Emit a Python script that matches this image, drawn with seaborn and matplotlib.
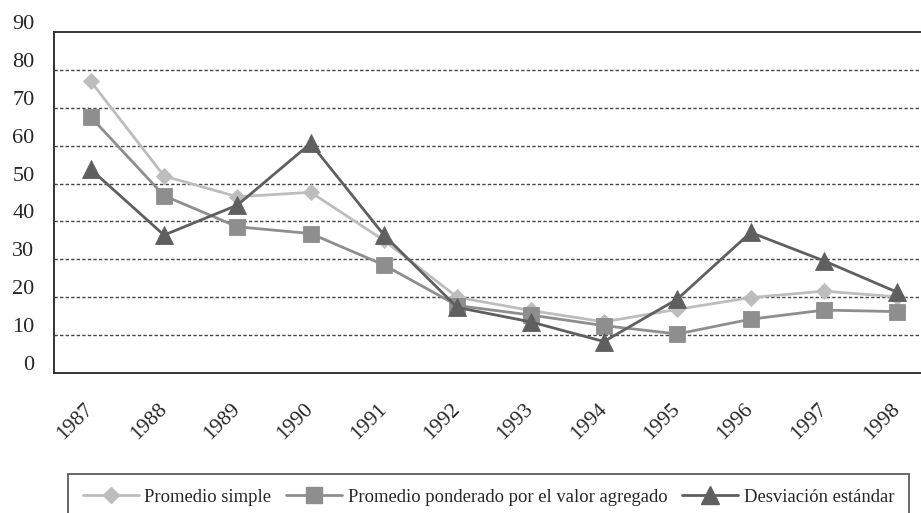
import matplotlib
matplotlib.use("Agg")
import matplotlib.pyplot as plt
from matplotlib.lines import Line2D
from matplotlib.transforms import ScaledTranslation
import numpy as np
import pandas as pd
import seaborn as sns

years = [1987, 1988, 1989, 1990, 1991, 1992, 1993, 1994, 1995, 1996, 1997, 1998]
promedio_simple = [77.0, 52.0, 46.5, 47.7, 35.0, 20.0, 16.5, 13.5, 16.8, 19.9, 21.6, 20.1]
promedio_ponderado = [67.6, 46.8, 38.6, 36.8, 28.5, 17.8, 15.3, 12.5, 10.3, 14.2, 16.6, 16.2]
desviacion = [53.8, 36.4, 44.3, 60.6, 36.4, 17.3, 13.5, 8.3, 19.5, 37.1, 29.6, 21.3]

series_names = ["Promedio simple",
                "Promedio ponderado por el valor agregado",
                "Desviación estándar"]
y_ticks = [0, 10, 20, 30, 40, 50, 60, 70, 80, 90]

df = pd.DataFrame({
    "year": years * 3,
    "value": promedio_simple + promedio_ponderado + desviacion,
    "serie": np.repeat(series_names, len(years)),
})

sns.set_style("white")
plt.rcParams["font.family"] = ["Liberation Serif", "DejaVu Serif"]

styles = {
    series_names[0]: dict(color="#bdbdbd", marker="D", markersize=8.0),
    series_names[1]: dict(color="#8e8e8e", marker="s", markersize=12),
    series_names[2]: dict(color="#5f5f5f", marker="^", markersize=13),
}

fig = plt.figure(figsize=(9.21, 5.13), dpi=100)
ax = fig.add_axes([54 / 921, 140 / 513, 880 / 921, 341 / 513])

for name in series_names:
    st = styles[name]
    sns.lineplot(data=df[df["serie"] == name], x="year", y="value",
                 color=st["color"], marker=st["marker"],
                 markersize=st["markersize"], markeredgewidth=0.6,
                 markeredgecolor=st["color"], linewidth=2.0,
                 ax=ax, legend=False, zorder=3)

ax.set_xlim(years[0] - 0.5, years[-1] + 0.5)
ax.set_ylim(0, 90)
ax.set_xlabel("")
ax.set_ylabel("")

# Horizontal dashed grid
for v in y_ticks[1:-1]:
    ax.axhline(v, color="#444444", lw=1.0, dashes=(2.4, 1.6), zorder=1)

ax.set_yticks(y_ticks)
ax.set_yticklabels([str(v) for v in y_ticks], fontsize=16)
ax.tick_params(axis="y", length=8, width=1.3, color="#333333", pad=6)
offset = ScaledTranslation(0, 10 / 100, fig.dpi_scale_trans)
for lab in ax.get_yticklabels():
    lab.set_transform(lab.get_transform() + offset)

ax.set_xticks(years)
ax.set_xticklabels([str(y) for y in years], fontsize=15.5, rotation=45,
                   ha="right", va="center", rotation_mode="anchor")
ax.tick_params(axis="x", which="major", length=0, pad=24)
ax.set_xticks([y - 0.5 for y in years] + [years[-1] + 0.5], minor=True)
ax.tick_params(axis="x", which="minor", length=8, width=1.3, color="#333333")

for side in ["left", "bottom", "top"]:
    ax.spines[side].set_color("#333333")
    ax.spines[side].set_linewidth(1.4)
ax.spines["right"].set_visible(False)

handles = [Line2D([], [], color=styles[n]["color"], marker=styles[n]["marker"],
                  markersize=styles[n]["markersize"], linewidth=2.0)
           for n in series_names]
leg = fig.legend(handles, series_names, loc="upper left",
                 bbox_to_anchor=(68 / 921, 39 / 513), ncol=3, fontsize=13.4,
                 frameon=True, fancybox=False, edgecolor="#333333",
                 handlelength=3.0, handletextpad=0.3, columnspacing=0.8,
                 borderpad=0.8, borderaxespad=0)
leg.get_frame().set_linewidth(1.3)

fig.savefig("out.png", dpi=100)
